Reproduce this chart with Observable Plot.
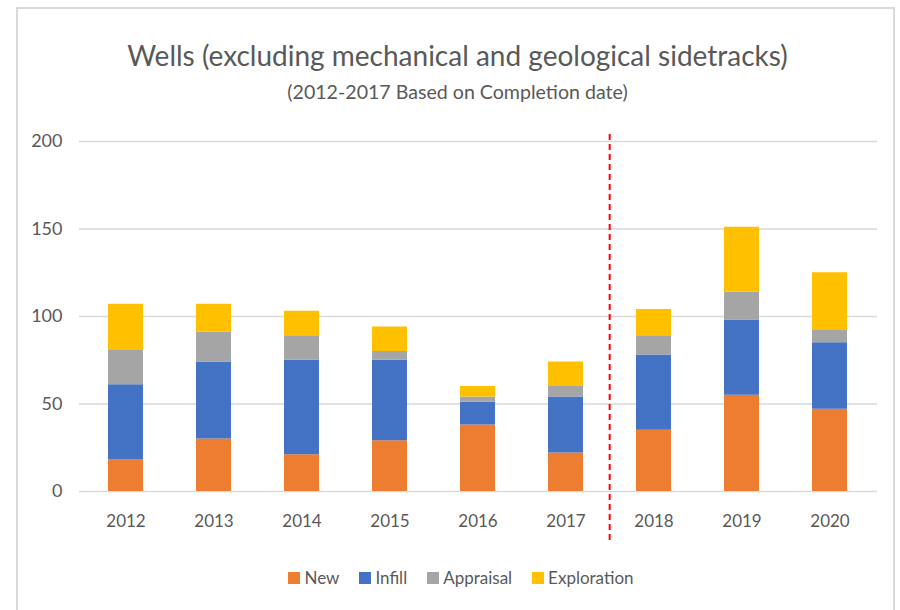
<!DOCTYPE html>
<html><head><meta charset="utf-8">
<script src="https://cdn.jsdelivr.net/npm/d3@7"></script>
<script src="https://cdn.jsdelivr.net/npm/@observablehq/plot@0.6"></script>
<style>
body{margin:0;background:#fff;font-family:Lato,sans-serif;color:#595959;width:900px;height:610px;overflow:hidden;position:relative;}
#frame{position:absolute;left:16px;top:7px;width:879px;height:640px;border:2px solid #d9d9d9;box-sizing:border-box;}
#title{position:absolute;left:0;width:915px;top:39px;text-align:center;font-size:28px;line-height:1.2;white-space:nowrap;}
#subtitle{position:absolute;left:0;width:915px;top:80px;text-align:center;font-size:19.6px;line-height:1.2;white-space:nowrap;}
#chart{position:absolute;left:0;top:120px;}
#legend{position:absolute;left:0;width:922px;top:567px;display:flex;justify-content:center;font-size:17px;line-height:22px;}
.item{display:flex;align-items:center;margin:0 10px;}
.sw{width:12px;height:12px;margin-right:4px;}
</style>
</head><body>
<div id="frame"></div>
<div id="title">Wells (excluding mechanical and geological sidetracks)</div>
<div id="subtitle">(2012-2017 Based on Completion date)</div>
<div id="chart"></div>
<div id="legend"></div>
<script>
const years = ["2012","2013","2014","2015","2016","2017","2018","2019","2020"];
const seriesNames = ["New","Infill","Appraisal","Exploration"];
const seriesColors = ["#ED7D31","#4472C4","#A5A5A5","#FFC000"];
const newWells = [18, 30, 21, 29, 38, 22, 35, 55, 47];
const infill = [43, 44, 54, 46, 13, 32, 43, 43, 38];
const appraisal = [20, 17, 14, 5, 3, 6, 11, 16, 7];
const exploration = [26, 16, 14, 14, 6, 14, 15, 37, 33];
const yTicks = [0, 50, 100, 150, 200];
const splitYear = "2018";

const seriesValues = [newWells, infill, appraisal, exploration];
const data = [];
years.forEach((yr, i) => {
  seriesNames.forEach((s, j) => data.push({year: yr, type: s, value: seriesValues[j][i]}));
});

const W = 900, H = 425, ML = 79, MR = 23, MT = 21, MB = 54;
const step = (W - ML - MR) / years.length;

const chart = Plot.plot({
  width: W, height: H, marginLeft: ML, marginRight: MR, marginTop: MT, marginBottom: MB,
  style: {fontFamily: "Lato, sans-serif", fontSize: "17px", color: "#595959", background: "transparent", overflow: "visible"},
  x: {domain: years, paddingInner: 0.6, paddingOuter: 0.3, label: null},
  y: {domain: [0, 200], label: null},
  color: {domain: seriesNames, range: seriesColors},
  marks: [
    Plot.gridY(yTicks, {stroke: "#d9d9d9", strokeOpacity: 1, strokeWidth: 1.5}),
    Plot.barY(data, {x: "year", y: "value", fill: "type", order: seriesNames}),
    Plot.ruleX([splitYear], {x: d => d, y1: -28, y2: 205, stroke: "#ff0000", strokeWidth: 2, strokeDasharray: "6,4", dx: -step / 2}),
    Plot.axisX({tickSize: 0, tickPadding: 23, fontSize: 17, label: null}),
    Plot.axisY(yTicks, {tickSize: 0, tickPadding: 17, fontSize: 18, label: null})
  ]
});
document.getElementById("chart").appendChild(chart);

const legend = document.getElementById("legend");
seriesNames.forEach((s, i) => {
  const it = document.createElement("div"); it.className = "item";
  const sw = document.createElement("div"); sw.className = "sw"; sw.style.background = seriesColors[i];
  const tx = document.createElement("span"); tx.textContent = s;
  it.appendChild(sw); it.appendChild(tx); legend.appendChild(it);
});
</script>
</body></html>
